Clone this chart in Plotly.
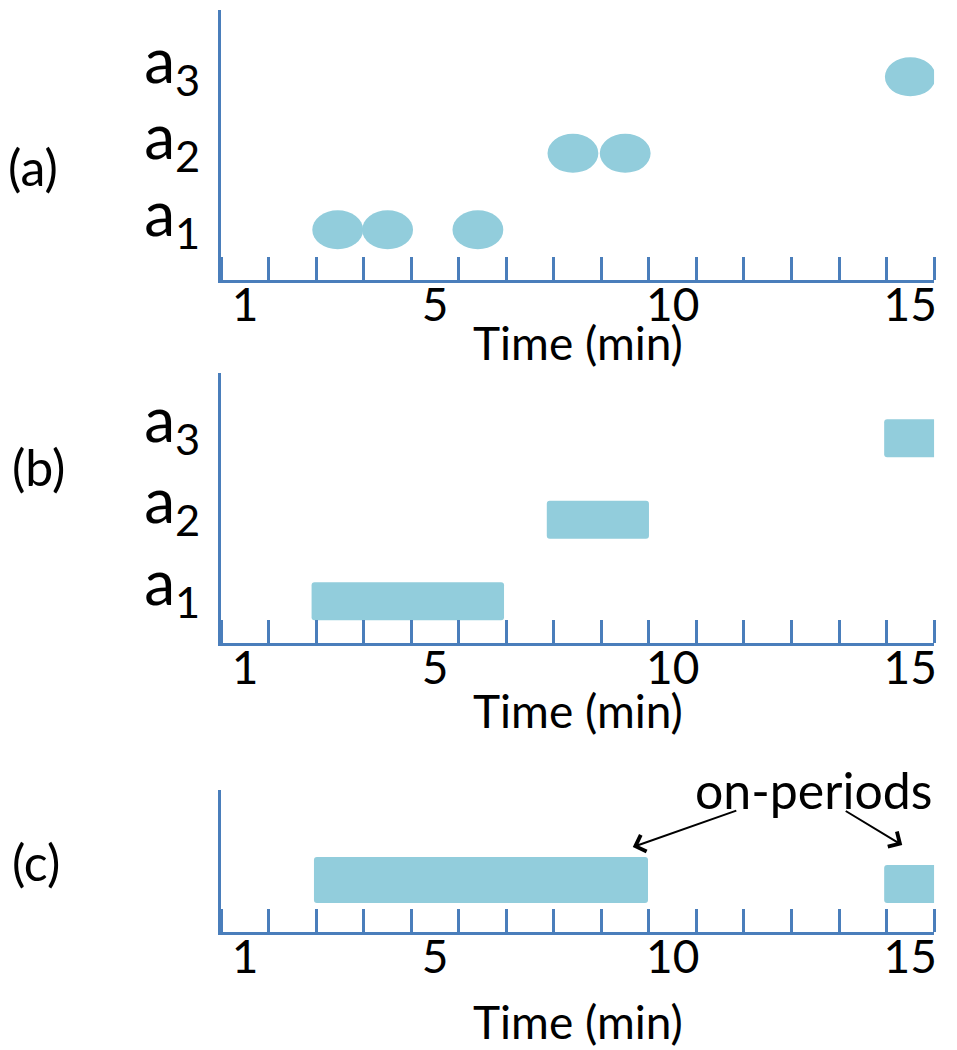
import plotly.graph_objects as go

# ---------------- data ----------------
time_ticks = [1, 5, 10, 15]
levels = [1, 2, 3]
level_labels = ["a<sub>1</sub>", "a<sub>2</sub>", "a<sub>3</sub>"]

# (a) individual events (minute, activity level)
event_time = [2.95, 4.0, 5.9, 7.9, 9.0, 15.0]
event_level = [1, 1, 1, 2, 2, 3]

# (b) activity intervals
act_level = [1, 2, 3]
act_start = [2.4, 7.35, 14.45]
act_end = [6.45, 9.5, 15.55]

# (c) on-periods
on_start = [2.45, 14.45]
on_end = [9.48, 15.55]
on_level = [1, 1]

panel_names = ["(a)", "(b)", "(c)"]
axis_title = "Time (min)"
callout = "on-periods"

# ---------------- style ----------------
W, H = 957, 1050
AXIS_BLUE = "#4A7EBB"
FILL = "#92CDDC"
FONT = "Lato"

def py(px):
    return 1 - px / H

fig = go.Figure()

xdom = [222 / W, 937 / W]
fig.update_layout(
    width=W, height=H,
    margin=dict(l=0, r=0, t=0, b=0),
    paper_bgcolor="white", plot_bgcolor="white",
    showlegend=False,
    font=dict(family=FONT, color="black"),
)

xaxis_common = dict(
    range=[0.5, 15.5], tickmode="array", tickvals=time_ticks,
    ticktext=[str(t) for t in time_ticks], ticks="",
    showline=True, linecolor=AXIS_BLUE, linewidth=2.5,
    showgrid=False, zeroline=False, fixedrange=True,
    tickfont=dict(size=46, family=FONT, color="black"),
    ticklabelstandoff=-17,
    minor=dict(tickmode="linear", tick0=0.5, dtick=1, ticks="inside",
               ticklen=23, tickwidth=2.5, tickcolor=AXIS_BLUE, showgrid=False),
)
yaxis_common = dict(
    showline=True, linecolor=AXIS_BLUE, linewidth=2.5,
    showgrid=False, zeroline=False, ticks="", fixedrange=True,
    tickfont=dict(size=62, family=FONT, color="black"),
)

fig.update_layout(
    xaxis=dict(xaxis_common, domain=xdom, anchor="y"),
    yaxis=dict(yaxis_common, domain=[py(280), py(10)], anchor="x",
               range=[0.344, 3.874], tickvals=levels, ticktext=level_labels,
               ticklabelstandoff=6, ticklabelshift=-16),
    xaxis2=dict(xaxis_common, domain=xdom, anchor="y2"),
    yaxis2=dict(yaxis_common, domain=[py(643), py(373)], anchor="x2",
                range=[0.487, 3.800], tickvals=levels, ticktext=level_labels,
                ticklabelstandoff=6, ticklabelshift=-18),
    xaxis3=dict(xaxis_common, domain=xdom, anchor="y3"),
    yaxis3=dict(yaxis_common, domain=[py(932), py(790)], anchor="x3",
                range=[0.796, 1.796], showticklabels=False),
)

# (a) events as ellipses drawn in data coordinates
EW, EH = 1.07, 0.51
for t, lv in zip(event_time, event_level):
    fig.add_shape(type="circle", xref="x", yref="y",
                  x0=t - EW / 2, x1=t + EW / 2, y0=lv - EH / 2, y1=lv + EH / 2,
                  fillcolor=FILL, line=dict(width=0), layer="above")
fig.add_trace(go.Scatter(x=event_time, y=event_level, mode="markers",
                         marker=dict(size=1, opacity=0), hoverinfo="skip",
                         xaxis="x", yaxis="y"))

# (b) activity intervals
fig.add_trace(go.Bar(
    orientation="h", y=act_level, base=act_start,
    x=[e - s for s, e in zip(act_start, act_end)],
    width=0.466, marker=dict(color=FILL, line=dict(width=0), cornerradius=3),
    xaxis="x2", yaxis="y2", hoverinfo="skip"))

# (c) on-periods
fig.add_trace(go.Bar(
    orientation="h", y=on_level, base=on_start,
    x=[e - s for s, e in zip(on_start, on_end)],
    width=[0.324, 0.268], offset=0,
    marker=dict(color=FILL, line=dict(width=0), cornerradius=3),
    xaxis="x3", yaxis="y3", hoverinfo="skip"))

# axis titles
for ycen in [342, 710, 1021]:
    fig.add_annotation(x=(xdom[0] + xdom[1]) / 2, y=py(ycen), xref="paper", yref="paper",
                       text=axis_title, showarrow=False, xanchor="center", yanchor="middle",
                       font=dict(size=46, family=FONT, color="black"))

# on-periods annotation with arrows
fig.add_annotation(x=12.96, y=1.796, xref="x3", yref="y3", text=callout,
                   showarrow=False, font=dict(size=50, family=FONT, color="black"),
                   xanchor="center", yanchor="middle")
fig.add_annotation(x=9.16, y=1.394, xref="x3", yref="y3", text="",
                   showarrow=True, arrowhead=4, arrowsize=1.7, arrowwidth=2,
                   arrowcolor="black", ax=105, ay=-37)
fig.add_annotation(x=14.83, y=1.408, xref="x3", yref="y3", text="",
                   showarrow=True, arrowhead=4, arrowsize=1.7, arrowwidth=2,
                   arrowcolor="black", ax=-58, ay=-35)

# panel labels
for name, xl, ycen in zip(panel_names, [6, 10, 10], [167, 467, 862]):
    fig.add_annotation(x=xl / W, y=py(ycen), xref="paper", yref="paper",
                       text=name, showarrow=False, xanchor="left", yanchor="middle",
                       font=dict(size=50, family=FONT, color="black"))

fig.write_html("out.html", config={"displayModeBar": False},
               post_script="document.body.style.margin='0';")
